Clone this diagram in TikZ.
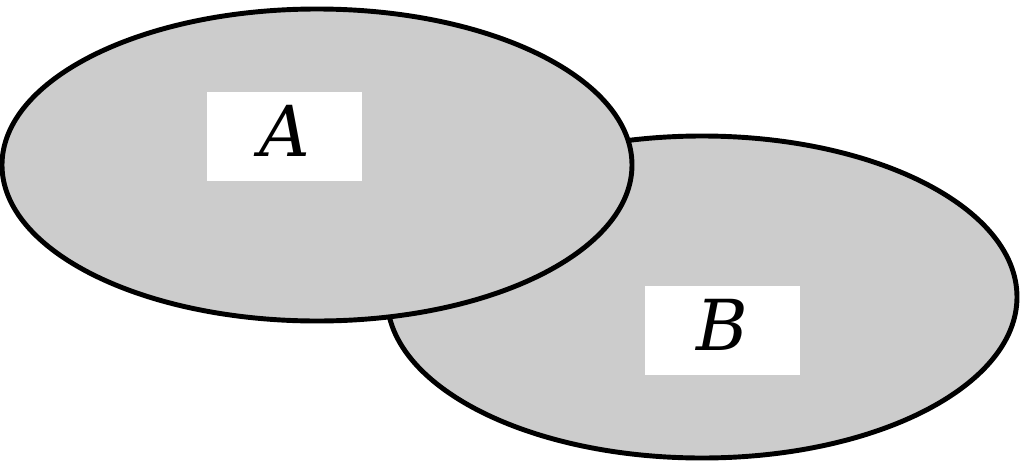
\documentclass[tikz,border=0pt]{standalone}
\usepackage{tikz}
\usepackage{xcolor}
\usepackage{fontspec}
\newfontfamily\rotfonte{DejaVu Serif}

\definecolor{cinza}{gray}{0.80}

\tikzset{
	conjunto/.style = {draw = black, fill = cinza, line width = 1.4pt},
	rotulo/.style = {fill = white, minimum width = 1.55cm, minimum height = 0.89cm, inner sep = 0pt, text depth = 0.11cm, font = \rotfonte\itshape\fontsize{20}{23}\selectfont}
}

\begin{document}
\begin{tikzpicture}[scale = 1]

	\useasboundingbox (0, 0) rectangle (10.24, 4.61); % Área total

	\draw[conjunto] (7.02, 1.64) ellipse (3.15 and 1.61); % Conjunto B
	\draw[conjunto] (3.17, 2.96) ellipse (3.15 and 1.56); % Conjunto A

	\node[rotulo] (rotA) at (2.845, 3.245) {A};
	\node[rotulo] (rotB) at (7.225, 1.31) {B};

\end{tikzpicture}
\end{document}
